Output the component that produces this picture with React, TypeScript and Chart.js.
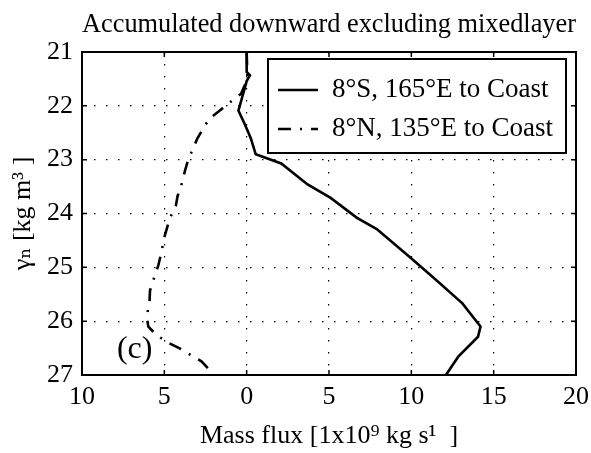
import React, { useEffect, useRef } from "react";
import { Chart, registerables } from "chart.js";

Chart.register(...registerables);

// ---- data ----
const chartTitle = "Accumulated downward excluding mixedlayer";
const xTitle = "Mass flux [1x10\u2079 kg s\u00b9  ]";
const yTitle = "\u03b3\u2099 [kg m\u00b3 ]";
const panelLabel = "(c)";

const seriesLabels = ["8\u00b0S, 165\u00b0E to Coast", "8\u00b0N, 135\u00b0E to Coast"];

const southDensity = [21.0, 21.37, 21.43, 21.54, 22.09, 22.35, 22.6, 22.9, 23.07, 23.46, 23.71, 24.08, 24.29, 24.81, 25.18, 25.67, 26.1, 26.29, 26.66, 27.0];
const southFlux = [0.0, 0.0, 0.2, 0.0, -0.5, -0.1, 0.25, 0.55, 2.1, 3.7, 5.1, 6.7, 7.9, 9.9, 11.3, 13.1, 14.2, 14.05, 12.85, 12.1];

const northDensity = [21.0, 21.5, 21.78, 21.92, 22.09, 22.25, 22.61, 23.0, 23.21, 23.45, 23.68, 23.86, 24.08, 24.44, 24.75, 24.97, 25.24, 25.43, 25.64, 25.92, 26.1, 26.26, 26.4, 26.5, 26.6, 26.75, 26.9, 27.0];
const northFlux = [0.0, 0.05, -0.35, -0.95, -1.65, -2.3, -3.0, -3.55, -3.75, -3.95, -4.2, -4.3, -4.66, -5.0, -5.2, -5.37, -5.67, -5.87, -5.9, -6.07, -5.97, -5.47, -4.76, -4.1, -3.55, -2.73, -2.27, -2.0];

const xMin = -10, xMax = 20, xStep = 5;
const yMin = 21, yMax = 27, yStep = 1;

const SERIF = "'Liberation Serif', 'DejaVu Serif', 'Times New Roman', serif";
const DASH_DOT = [13, 9, 2, 9];

const toPoints = (ys: number[], xs: number[]) => ys.map((y, i) => ({ x: xs[i], y }));

const framePlugin = {
  id: "frameAndLegend",
  afterDatasetsDraw(chart: any) {
    const { ctx, chartArea } = chart;
    const { left, right, top, bottom } = chartArea;
    const xs = chart.scales.x;
    const ys = chart.scales.y;
    ctx.save();
    ctx.setLineDash([]);
    ctx.strokeStyle = "#000";
    // inward ticks
    ctx.lineWidth = 1.5;
    const tl = 5;
    for (let v = xMin; v <= xMax; v += xStep) {
      const px = xs.getPixelForValue(v);
      ctx.beginPath();
      ctx.moveTo(px, bottom);
      ctx.lineTo(px, bottom - tl);
      ctx.moveTo(px, top);
      ctx.lineTo(px, top + tl);
      ctx.stroke();
    }
    for (let v = yMin; v <= yMax; v += yStep) {
      const py = ys.getPixelForValue(v);
      ctx.beginPath();
      ctx.moveTo(left, py);
      ctx.lineTo(left + tl, py);
      ctx.moveTo(right, py);
      ctx.lineTo(right - tl, py);
      ctx.stroke();
    }
    // frame
    ctx.lineWidth = 2;
    ctx.strokeRect(left, top, right - left, bottom - top);

    // legend
    const bw = 298, bh = 94;
    const bx = right - 10 - bw;
    const by = top + 7;
    ctx.fillStyle = "#fff";
    ctx.fillRect(bx, by, bw, bh);
    ctx.lineWidth = 2;
    ctx.strokeRect(bx, by, bw, bh);
    const rows = [by + 31, by + 70];
    chart.data.datasets.forEach((ds: any, i: number) => {
      const ry = rows[i];
      ctx.save();
      ctx.strokeStyle = ds.borderColor;
      ctx.lineWidth = ds.borderWidth;
      ctx.setLineDash(ds.borderDash || []);
      ctx.beginPath();
      ctx.moveTo(bx + 10, ry);
      ctx.lineTo(bx + 50, ry);
      ctx.stroke();
      ctx.restore();
      ctx.fillStyle = "#000";
      ctx.font = `27px ${SERIF}`;
      ctx.textBaseline = "middle";
      ctx.textAlign = "left";
      ctx.fillText(ds.label, bx + 64, ry);
    });

    // panel label
    ctx.fillStyle = "#000";
    ctx.font = `32px ${SERIF}`;
    ctx.textAlign = "center";
    ctx.textBaseline = "middle";
    ctx.fillText(panelLabel, xs.getPixelForValue(-6.8), ys.getPixelForValue(26.53));
    ctx.restore();
  },
};

export default function App() {
  const ref = useRef<HTMLCanvasElement | null>(null);
  useEffect(() => {
    if (!ref.current) return;
    const chart = new Chart(ref.current, {
      type: "line",
      data: {
        datasets: [
          {
            label: seriesLabels[0],
            data: toPoints(southDensity, southFlux),
            borderColor: "#000",
            borderWidth: 2.6,
            pointRadius: 0,
            fill: false,
            tension: 0,
          },
          {
            label: seriesLabels[1],
            data: toPoints(northDensity, northFlux),
            borderColor: "#000",
            borderWidth: 2.6,
            borderDash: DASH_DOT,
            pointRadius: 0,
            fill: false,
            tension: 0,
          },
        ],
      },
      options: {
        responsive: false,
        animation: false,
        layout: { padding: { left: 0, right: 15, top: 0, bottom: 0 } },
        plugins: {
          legend: { display: false },
          tooltip: { enabled: false },
          title: {
            display: true,
            text: chartTitle,
            fullSize: false,
            color: "#000",
            font: { family: SERIF, size: 28, weight: "normal" },
            padding: { top: 8, bottom: 10.4 },
          },
        },
        scales: {
          x: {
            type: "linear",
            position: "bottom",
            min: xMin,
            max: xMax,
            ticks: {
              stepSize: xStep,
              color: "#000",
              font: { family: SERIF, size: 26 },
              padding: 7,
              maxRotation: 0,
              callback: (v: any) => String(Math.abs(Number(v))),
            },
            grid: { color: "#000", lineWidth: 1.2, drawTicks: false },
            border: { display: false, dash: [1.5, 10.5] },
            title: {
              display: true,
              text: xTitle,
              color: "#000",
              font: { family: SERIF, size: 26 },
              padding: { top: 0, bottom: 1 },
            },
            afterFit: (s: any) => {
              s.height = 78;
              s.paddingLeft = 0;
              s.paddingRight = 0;
            },
          },
          y: {
            type: "linear",
            reverse: true,
            min: yMin,
            max: yMax,
            ticks: {
              stepSize: yStep,
              color: "#000",
              font: { family: SERIF, size: 26 },
              padding: 9,
            },
            grid: { color: "#000", lineWidth: 1.2, drawTicks: false },
            border: { display: false, dash: [1.5, 10.5] },
            title: {
              display: true,
              text: yTitle,
              color: "#000",
              font: { family: SERIF, size: 26 },
              padding: { top: 8, bottom: 0 },
            },
            afterFit: (s: any) => {
              s.width = 82;
              s.paddingTop = 0;
              s.paddingBottom = 0;
            },
          },
        },
      },
      plugins: [framePlugin],
    });
    return () => chart.destroy();
  }, []);
  return (
    <div style={{ position: "absolute", left: 0, top: 0, width: 591, height: 453, background: "#fff" }}>
      <canvas ref={ref} width={591} height={453} style={{ display: "block" }} />
    </div>
  );
}
